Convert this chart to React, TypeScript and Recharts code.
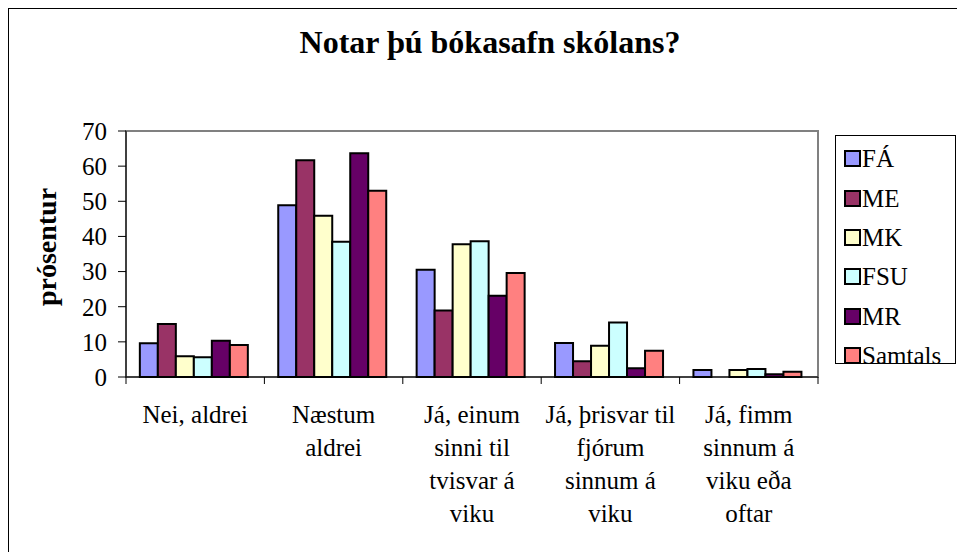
import { BarChart, Bar, XAxis, YAxis, ReferenceArea } from 'recharts';

// Survey answers: "Do you use the school library?"
const categories = [
  'Nei, aldrei',
  'Næstum aldrei',
  'Já, einum sinni til tvisvar á viku',
  'Já, þrisvar til fjórum sinnum á viku',
  'Já, fimm sinnum á viku eða oftar',
];

const categoryLines = [
  ['Nei, aldrei'],
  ['Næstum', 'aldrei'],
  ['Já, einum', 'sinni til', 'tvisvar á', 'viku'],
  ['Já, þrisvar til', 'fjórum', 'sinnum á', 'viku'],
  ['Já, fimm', 'sinnum á', 'viku eða', 'oftar'],
];

const seriesNames = ['FÁ', 'ME', 'MK', 'FSU', 'MR', 'Samtals'];
const seriesColors = ['#9999FF', '#993366', '#FFFFCC', '#CCFFFF', '#660066', '#FF8080'];

const faValues = [9.6, 48.9, 30.5, 9.7, 2.0];
const meValues = [15.1, 61.7, 18.9, 4.5, 0];
const mkValues = [5.9, 45.9, 37.8, 8.9, 2.0];
const fsuValues = [5.6, 38.5, 38.6, 15.5, 2.3];
const mrValues = [10.3, 63.7, 23.1, 2.5, 0.8];
const samtalsValues = [9.1, 53.0, 29.6, 7.5, 1.5];

const yTicks = [0, 10, 20, 30, 40, 50, 60, 70];

const FONT = "'Liberation Serif', 'Times New Roman', serif";
const PLOT_WIDTH = 692;
const BAND = PLOT_WIDTH / categories.length;

const allSeries = [faValues, meValues, mkValues, fsuValues, mrValues, samtalsValues];

const data = categories.map((name, i) => {
  const row: Record<string, string | number> = { name };
  seriesNames.forEach((s, j) => {
    row[s] = allSeries[j][i];
  });
  return row;
});

const CategoryTick = ({ x, y, payload }: any) => {
  const idx = categories.indexOf(payload.value);
  const lines = categoryLines[idx] ?? [];
  return (
    <g>
      {idx === 0 && (
        <line x1={x - BAND / 2} x2={x - BAND / 2} y1={y} y2={y + 7} stroke="#000" />
      )}
      <line x1={x + BAND / 2} x2={x + BAND / 2} y1={y} y2={y + 7} stroke="#000" />
      <text x={x} y={y + 46} textAnchor="middle" fontSize={25} fontFamily={FONT} fill="#000">
        {lines.map((l, i) => (
          <tspan key={i} x={x} dy={i === 0 ? 0 : 33}>
            {l}
          </tspan>
        ))}
      </text>
    </g>
  );
};

const LegendBox = () => (
  <div
    style={{
      position: 'absolute',
      left: 835,
      top: 135,
      width: 121,
      height: 229,
      boxSizing: 'border-box',
      border: '1px solid #000',
      background: '#fff',
      paddingTop: 3,
      fontFamily: FONT,
      fontSize: 25,
      color: '#000',
    }}
  >
    {seriesNames.map((name, i) => (
      <div
        key={name}
        style={{ display: 'flex', alignItems: 'center', height: 39.4, paddingLeft: 8 }}
      >
        <span
          style={{
            width: 17,
            height: 17,
            boxSizing: 'border-box',
            border: '2px solid #000',
            background: seriesColors[i],
            marginRight: 1,
            flexShrink: 0,
          }}
        />
        <span style={{ lineHeight: '25px' }}>{name}</span>
      </div>
    ))}
  </div>
);

export default function App() {
  return (
    <div
      style={{
        position: 'fixed',
        left: 0,
        top: 0,
        width: 957,
        height: 552,
        overflow: 'hidden',
        background: '#fff',
      }}
    >
      {/* outer chart frame, cut off at the right and bottom */}
      <div
        style={{
          position: 'absolute',
          left: 8,
          top: 8,
          width: 1200,
          height: 1200,
          borderLeft: '1px solid #000',
          borderTop: '1px solid #000',
        }}
      />
      <div style={{ position: 'absolute', left: 0, top: 0 }}>
        <BarChart
          width={957}
          height={552}
          data={data}
          margin={{ top: 131, right: 139, bottom: 0, left: 0 }}
          barCategoryGap="10%"
          barGap={0}
        >
          <ReferenceArea y1={0} y2={70} fill="none" stroke="#808080" strokeWidth={2} />
          <XAxis
            dataKey="name"
            height={175}
            interval={0}
            tickLine={false}
            tickSize={0}
            tickMargin={0}
            axisLine={{ stroke: '#000' }}
            tick={<CategoryTick />}
          />
          <YAxis
            width={126}
            domain={[0, 70]}
            ticks={yTicks}
            interval={0}
            tickSize={8}
            tickMargin={11}
            axisLine={{ stroke: '#000' }}
            tickLine={{ stroke: '#000' }}
            tick={{ fontSize: 25, fill: '#000', fontFamily: FONT }}
          />
          {seriesNames.map((s, i) => (
            <Bar
              key={s}
              dataKey={s}
              fill={seriesColors[i]}
              stroke="#000"
              strokeWidth={2}
              isAnimationActive={false}
            />
          ))}
        </BarChart>
      </div>
      <LegendBox />
      <svg
        width={957}
        height={552}
        style={{ position: 'absolute', left: 0, top: 0, pointerEvents: 'none' }}
      >
        <text
          x={490}
          y={53}
          textAnchor="middle"
          fontFamily={FONT}
          fontWeight="bold"
          fontSize={32}
          fill="#000"
        >
          Notar þú bókasafn skólans?
        </text>
        <text
          x={56}
          y={247}
          textAnchor="middle"
          transform="rotate(-90 56 247)"
          fontFamily={FONT}
          fontWeight="bold"
          fontSize={28}
          fill="#000"
        >
          prósentur
        </text>
      </svg>
    </div>
  );
}
